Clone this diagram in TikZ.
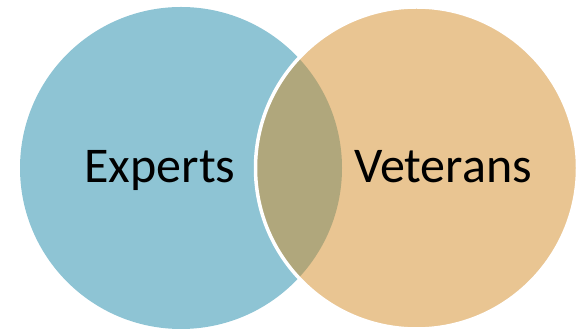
\documentclass[tikz,border=0pt]{standalone}
\usepackage{fontspec}
\setmainfont{Carlito}
\definecolor{expblue}{RGB}{29,137,169}
\definecolor{vetorange}{RGB}{211,139,37}
\begin{document}
\begin{tikzpicture}[x=1pt,y=1pt,
  vset/.style={circle, inner sep=0pt, minimum size=322pt, fill opacity=0.5},
  vlabel/.style={anchor=base, inner sep=0pt, font=\fontsize{50}{60}\selectfont}]
\useasboundingbox (0,0) rectangle (583,331);
\node[vset, fill=expblue] (experts) at (181,163){};
\node[vset, fill=vetorange, draw=white, draw opacity=1, line width=3.5pt] (veterans) at (416.5,163){};
\node[vlabel] (tExperts) at (160,148){Experts};
\node[vlabel] (tVeterans) at (443,148){Veterans};
\end{tikzpicture}
\end{document}
